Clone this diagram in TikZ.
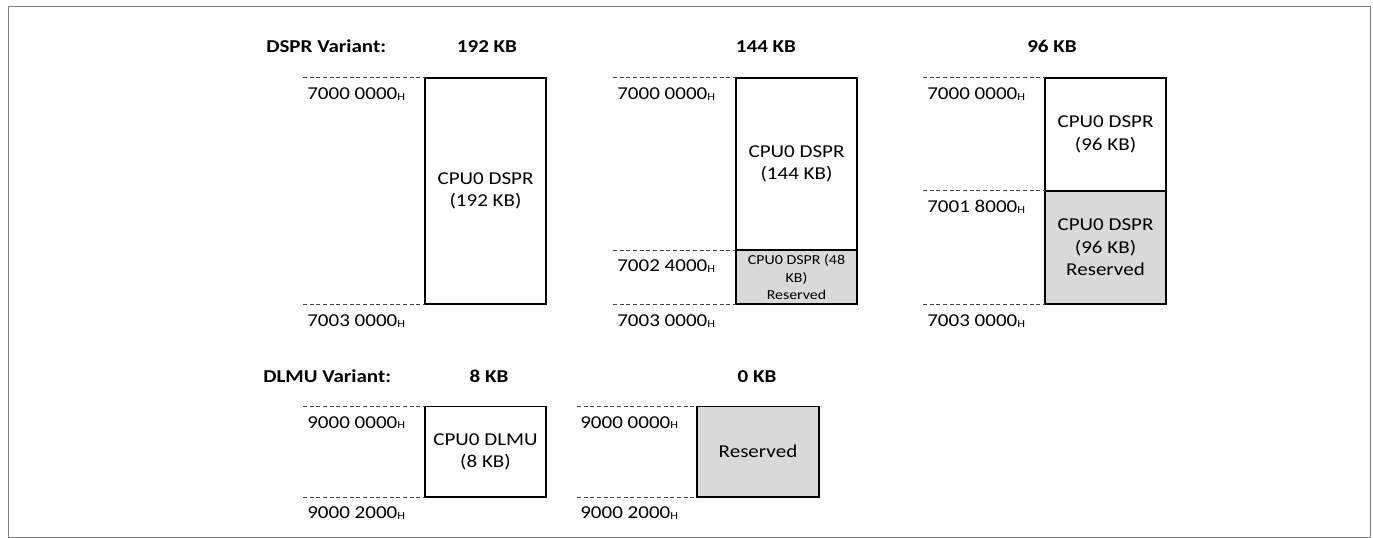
\documentclass[tikz,border=0pt]{standalone}
\usepackage{fontspec}
\usetikzlibrary{calc}
\setmainfont{Carlito}[FakeStretch=1.16]
\definecolor{resgray}{HTML}{D9D9D9}
\definecolor{framegray}{HTML}{7F7F7F}
\newcommand\addrfont{\fontsize{13.6}{16.3}\selectfont}
\newcommand\boxfont{\fontsize{13.6}{16.8}\selectfont}
\newcommand\smallboxfont{\fontsize{10.3}{13.2}\selectfont}
\newcommand\hexsub{\raisebox{-0.6pt}{\fontsize{8}{8}\selectfont H}}
\begin{document}
\begin{tikzpicture}[x=0.75pt,y=-0.75pt,
  mem/.style={draw=black,line width=1.35pt},
  resv/.style={mem,fill=resgray},
  guide/.style={draw=black!75,line width=0.6pt,dash pattern=on 3pt off 2pt},
  addr/.style={anchor=base west,inner sep=0pt,font=\addrfont},
  title/.style={anchor=base,inner sep=0pt,font=\addrfont\bfseries},
  memtext/.style={align=center,inner sep=0pt,font=\boxfont},
  smalltext/.style={align=center,inner sep=0pt,font=\smallboxfont}]
\useasboundingbox (0,0) rectangle (1373,538);
\draw[framegray,line width=1pt] (8.7,6.7) rectangle (1370.8,537.2);

% ---------------- DSPR variants ----------------
\node[title,anchor=base west] (dsprT) at (266,53) {DSPR Variant:};
\node[title] (t192) at (487,53) {192 KB};
\node[title] (t144) at (766,53) {144 KB};
\node[title] (t96)  at (1052,53) {96 KB};

% 192 KB
\coordinate (a1) at (425,77.7);
\coordinate (b1) at (546,304.3);
\draw[mem] (a1) rectangle (b1);
\node[memtext] (m192) at ($(a1)!0.5!(b1)$) {CPU0 DSPR\\(192 KB)};
\coordinate (g1t) at (303,77.7);
\coordinate (g1b) at (303,304.3);
\draw[guide] (g1t) -- (a1);
\draw[guide] (g1b) -- (a1 |- b1);
\node[addr] (l1a) at (307,99.7) {7000 0000\hexsub};
\node[addr] (l1b) at (307,326.3) {7003 0000\hexsub};

% 144 KB
\coordinate (a2) at (736,77.7);
\coordinate (d2) at (857,250);
\coordinate (b2) at (857,304.3);
\draw[mem] (a2) rectangle (d2);
\draw[resv] (a2 |- d2) rectangle (b2);
\node[memtext] (m144) at ($(a2)!0.5!(d2)$) {CPU0 DSPR\\(144 KB)};
\node[smalltext] (r48) at ($(a2 |- d2)!0.5!(b2)$) {CPU0 DSPR (48\\KB)\\Reserved};
\coordinate (g2t) at (613,77.7);
\draw[guide] (g2t) -- (a2);
\draw[guide] (g2t |- d2) -- (a2 |- d2);
\draw[guide] (g2t |- b2) -- (a2 |- b2);
\node[addr] (l2a) at (617,99.7) {7000 0000\hexsub};
\node[addr] (l2b) at (617,272) {7002 4000\hexsub};
\node[addr] (l2c) at (617,326.3) {7003 0000\hexsub};

% 96 KB
\coordinate (a3) at (1045,77.7);
\coordinate (d3) at (1166,190.7);
\coordinate (b3) at (1166,304.3);
\draw[mem] (a3) rectangle (d3);
\draw[resv] (a3 |- d3) rectangle (b3);
\node[memtext] (m96) at ($(a3)!0.5!(d3)$) {CPU0 DSPR\\(96 KB)};
\node[memtext] (r96) at ($(a3 |- d3)!0.5!(b3)$) {CPU0 DSPR\\(96 KB)\\Reserved};
\coordinate (g3t) at (923,77.7);
\draw[guide] (g3t) -- (a3);
\draw[guide] (g3t |- d3) -- (a3 |- d3);
\draw[guide] (g3t |- b3) -- (a3 |- b3);
\node[addr] (l3a) at (927,99.7) {7000 0000\hexsub};
\node[addr] (l3b) at (927,212.7) {7001 8000\hexsub};
\node[addr] (l3c) at (927,326.3) {7003 0000\hexsub};

% ---------------- DLMU variants ----------------
\node[title,anchor=base west] (dlmuT) at (263,382.3) {DLMU Variant:};
\node[title] (t8) at (489,382.3) {8 KB};
\node[title] (t0) at (757,382.3) {0 KB};

% 8 KB
\coordinate (a4) at (425,406.5);
\coordinate (b4) at (546,497);
\draw[mem] (a4) rectangle (b4);
\node[memtext] (m8) at ($(a4)!0.5!(b4)$) {CPU0 DLMU\\(8 KB)};
\coordinate (g4t) at (303,406.5);
\draw[guide] (g4t) -- (a4);
\draw[guide] (g4t |- b4) -- (a4 |- b4);
\node[addr] (l4a) at (307,428) {9000 0000\hexsub};
\node[addr] (l4b) at (307,518.5) {9000 2000\hexsub};

% 0 KB
\coordinate (a5) at (697,406.5);
\coordinate (b5) at (819,497);
\draw[resv] (a5) rectangle (b5);
\node[memtext] (m0) at ($(a5)!0.5!(b5)$) {Reserved};
\coordinate (g5t) at (577,406.5);
\draw[guide] (g5t) -- (a5);
\draw[guide] (g5t |- b5) -- (a5 |- b5);
\node[addr] (l5a) at (580,428) {9000 0000\hexsub};
\node[addr] (l5b) at (580,518.5) {9000 2000\hexsub};
\end{tikzpicture}
\end{document}
